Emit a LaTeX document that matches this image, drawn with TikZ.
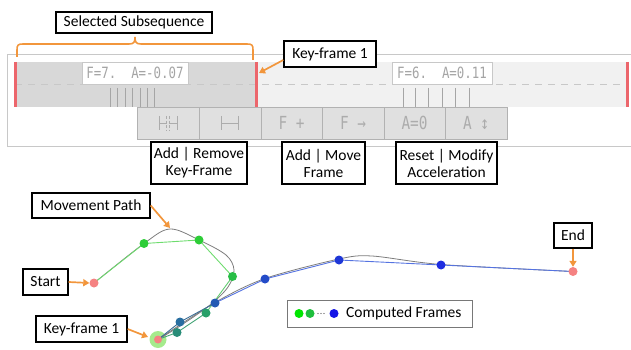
\documentclass[tikz,border=0pt]{standalone}
\usepackage{fontspec}
\setmainfont{Carlito}
\newfontfamily\lcdfont[FakeStretch=0.8]{DejaVu Sans Mono}
\newfontfamily\symfont[FakeStretch=0.8]{DejaVu Sans Mono}
\usetikzlibrary{arrows.meta}

\definecolor{orng}{RGB}{242,150,60}
\definecolor{redmark}{RGB}{236,102,108}
\definecolor{trackdark}{RGB}{216,216,216}
\definecolor{tracklight}{RGB}{241,241,241}
\definecolor{panelline}{RGB}{200,200,200}
\definecolor{btnfill}{RGB}{224,224,224}
\definecolor{btnline}{RGB}{178,178,178}
\definecolor{glyph}{RGB}{165,165,165}
\definecolor{btnglyph}{RGB}{172,172,172}
\definecolor{pinkpt}{RGB}{245,130,130}
\definecolor{halo}{RGB}{165,235,140}
\definecolor{gA}{RGB}{45,205,55}
\definecolor{gB}{RGB}{40,190,70}
\definecolor{tA}{RGB}{40,160,105}
\definecolor{tB}{RGB}{40,140,120}
\definecolor{bA}{RGB}{40,110,160}
\definecolor{bB}{RGB}{35,90,180}
\definecolor{bC}{RGB}{35,75,200}
\definecolor{bD}{RGB}{30,55,215}
\definecolor{bE}{RGB}{30,45,225}
\definecolor{lgreen}{RGB}{110,220,110}
\definecolor{lteal}{RGB}{70,165,120}
\definecolor{lblue}{RGB}{85,115,225}
\definecolor{lslate}{RGB}{60,110,150}
\definecolor{curvegray}{RGB}{125,125,125}
\definecolor{legline}{RGB}{120,120,120}

\tikzset{
  callout/.style={draw=black, line width=1.4pt, fill=white, inner sep=1pt,
    font=\fontsize{15.5}{17}\selectfont, align=center},
  oarrow/.style={draw=orng, line width=1.7pt, -{Triangle[length=6pt,width=7pt]}},
  dotpt/.style={circle, inner sep=0pt, minimum size=9pt},
  lcdbox/.style={draw=panelline, fill=white, inner sep=0pt, minimum height=22pt,
    text=glyph, font=\lcdfont\fontsize{15.5}{17}\selectfont},
  btn/.style={draw=btnline, fill=btnfill, inner sep=0pt, minimum width=61.5pt,
    minimum height=32pt, text=btnglyph, font=\symfont\fontsize{18}{20}\selectfont},
  icon/.style={draw=btnglyph, line width=0.8pt},
  tick/.style={draw=glyph, line width=0.8pt},
  redbar/.style={draw=redmark, line width=3pt},
}

\begin{document}
\begin{tikzpicture}[x=1pt,y=-1pt]
\useasboundingbox (0,0) rectangle (631,350);

% ---------- timeline panel ----------
\draw[panelline, line width=0.8pt] (7,147) -- (7,54) -- (640,54);
\draw[panelline, line width=0.8pt] (7,146.5) -- (640,146.5);
\fill[trackdark] (15,62) rectangle (256,107);
\fill[tracklight] (256,62) rectangle (627,107);
\draw[panelline, line width=0.8pt, dash pattern=on 7pt off 6pt] (15,84) -- (627,84);

% frame ticks
\foreach \x in {110,117.5,125,132.5,140,147,154}
  \draw[tick] (\x,88) -- (\x,107);
\foreach \x in {403,415.5,428.5,442.5,455.5,469}
  \draw[tick] (\x,88) -- (\x,107);

% segment labels
\node[lcdbox, minimum width=106pt] (seg1) at (135,73) {F=7.\ \ A=-0.07};
\node[lcdbox, minimum width=100pt] (seg2) at (442,73) {F=6.\ \ A=0.11};

% key-frame markers
\draw[redbar] (15,62) -- (15,107);
\draw[redbar] (256,62) -- (256,107);
\draw[redbar] (627,62) -- (627,107);

% ---------- tool buttons ----------
\node[btn] (btnA) at (168,123) {};
\node[btn] (btnB) at (230,123) {};
\node[btn] (btnC) at (291.5,123) {F +};
\node[btn] (btnD) at (353,123) {F →};
\node[btn] (btnE) at (414.5,123) {A=0};
\node[btn] (btnF) at (476,123) {A ↕};

% add/remove key-frame glyphs
\draw[icon] ([xshift=-9pt,yshift=7pt]btnA.center) -- ([xshift=-9pt,yshift=-7pt]btnA.center);
\draw[icon] ([xshift=9pt,yshift=7pt]btnA.center) -- ([xshift=9pt,yshift=-7pt]btnA.center);
\draw[icon] ([xshift=-9pt]btnA.center) -- ([xshift=-1.5pt]btnA.center);
\draw[icon] ([xshift=1.5pt]btnA.center) -- ([xshift=9pt]btnA.center);
\draw[icon, dash pattern=on 3pt off 1.5pt] ([xshift=-1.5pt,yshift=7pt]btnA.center) -- ([xshift=-1.5pt,yshift=-7pt]btnA.center);
\draw[icon, dash pattern=on 3pt off 1.5pt] ([xshift=1.5pt,yshift=7pt]btnA.center) -- ([xshift=1.5pt,yshift=-7pt]btnA.center);
\draw[icon] ([xshift=-8.5pt,yshift=7pt]btnB.center) -- ([xshift=-8.5pt,yshift=-7pt]btnB.center);
\draw[icon] ([xshift=8.5pt,yshift=7pt]btnB.center) -- ([xshift=8.5pt,yshift=-7pt]btnB.center);
\draw[icon] ([xshift=-8.5pt]btnB.center) -- ([xshift=8.5pt]btnB.center);

% ---------- callouts for the timeline ----------
\node[callout, minimum width=156pt, minimum height=21pt] (subseq) at (134,22.5) {Selected Subsequence};
\draw[orng, line width=1.6pt] (17,57) -- (17,50) .. controls (17,45) and (18,44) .. (23,44)
  -- (129,44) .. controls (134,44) and (135,42) .. (135,37)
  .. controls (135,42) and (136,44) .. (141,44)
  -- (247,44) .. controls (252,44) and (253,45) .. (253,50) -- (253,60);

\node[callout, minimum width=92pt, minimum height=26pt] (kftop) at (330,54) {Key-frame 1};
\coordinate (kfmark) at (259,73);
\draw[oarrow] ([yshift=-6pt]kftop.west) -- (kfmark);

\node[callout, minimum width=96pt, minimum height=42pt] (addrem) at (199,163) {Add | Remove\\Key-Frame};
\node[callout, minimum width=83pt, minimum height=42pt] (addmove) at (323.5,163) {Add | Move\\Frame};
\node[callout, minimum width=101pt, minimum height=42pt] (resetmod) at (446.5,163) {Reset | Modify\\Acceleration};

% ---------- movement path ----------
\coordinate (ptStart) at (94,283);
\coordinate (g1) at (144,243.5);
\coordinate (g2) at (199,240);
\coordinate (g3) at (232.5,276.5);
\coordinate (t1) at (206,313);
\coordinate (t2) at (177,332.5);
\coordinate (kf) at (158,339.5);
\coordinate (b1) at (180,322);
\coordinate (b2) at (215,303);
\coordinate (b3) at (265,279);
\coordinate (b4) at (339,260);
\coordinate (b5) at (441,265);
\coordinate (ptEnd) at (573,271.5);
\coordinate (peak) at (170,228);

% halo of the reached key-frame
\fill[halo] (kf) circle (8.5pt);

% smooth user-drawn path
\draw[curvegray, line width=0.8pt] plot[smooth, tension=0.55] coordinates
  {(94,283) (144,243.5) (170,229) (199,240) (226,255) (234,270) (228,287) (210,305) (180,326) (158,339.5)};
\draw[curvegray, line width=0.8pt] plot[smooth, tension=0.5] coordinates
  {(158,339.5) (215,302.5) (265,278.5) (339,259) (372,256) (441,264.5) (573,271.5)};

% computed frame links
\draw[lgreen, line width=0.9pt] (ptStart) -- (g1) -- (g2) -- (g3);
\draw[lgreen!70!lteal, line width=0.9pt] (g3) -- (t1);
\draw[lteal, line width=0.9pt] (t1) -- (t2) -- (kf);
\draw[lslate, line width=0.9pt] (kf) -- (b1) -- (b2);
\draw[lblue, line width=0.9pt] (b2) -- (b3) -- (b4) -- (b5) -- (ptEnd);

% frames
\node[dotpt, fill=pinkpt] (nStart) at (ptStart) {};
\node[dotpt, fill=pinkpt, minimum size=8pt] (nKf) at (kf) {};
\node[dotpt, fill=pinkpt] (nEnd) at (ptEnd) {};
\node[dotpt, fill=gA] (ng1) at (g1) {};
\node[dotpt, fill=gA] (ng2) at (g2) {};
\node[dotpt, fill=gB] (ng3) at (g3) {};
\node[dotpt, fill=tA] (nt1) at (t1) {};
\node[dotpt, fill=tB] (nt2) at (t2) {};
\node[dotpt, fill=bA] (nb1) at (b1) {};
\node[dotpt, fill=bB] (nb2) at (b2) {};
\node[dotpt, fill=bC] (nb3) at (b3) {};
\node[dotpt, fill=bD] (nb4) at (b4) {};
\node[dotpt, fill=bE] (nb5) at (b5) {};

% path callouts
\node[callout, minimum width=118pt, minimum height=25pt] (movepath) at (91,205.5) {Movement Path};
\draw[oarrow] (movepath.east) -- (peak);
\node[callout, minimum width=45pt, minimum height=26pt] (startlbl) at (45.5,282) {Start};
\draw[oarrow] (startlbl.east) -- (nStart.west);
\node[callout, minimum width=91pt, minimum height=26pt] (kflow) at (81.5,329) {Key-frame 1};
\draw[oarrow] (kflow.east) -- ([xshift=-10pt,yshift=2.5pt]kf);
\node[callout, minimum width=38pt, minimum height=25pt] (endlbl) at (573,235.5) {End};
\draw[oarrow] (endlbl.south) -- (nEnd.north);

% legend
\node[draw=legline, line width=0.9pt, fill=white, minimum width=185pt, minimum height=27pt, inner sep=0pt] (legend) at (379.5,313.5) {};
\node[dotpt, fill={rgb,255:red,0;green,230;blue,0}] (lg1) at (299,313.5) {};
\node[dotpt, fill={rgb,255:red,30;green,190;blue,60}] (lg2) at (310,313.5) {};
\foreach \x in {318,321,324} \fill[black!70] (\x,313.5) circle (0.7pt);
\node[dotpt, fill={rgb,255:red,20;green,20;blue,230}] (lg3) at (334,313.5) {};
\node[anchor=west, inner sep=0pt, font=\fontsize{15.5}{17}\selectfont] (legtext) at (346,313) {Computed Frames};
\end{tikzpicture}
\end{document}
